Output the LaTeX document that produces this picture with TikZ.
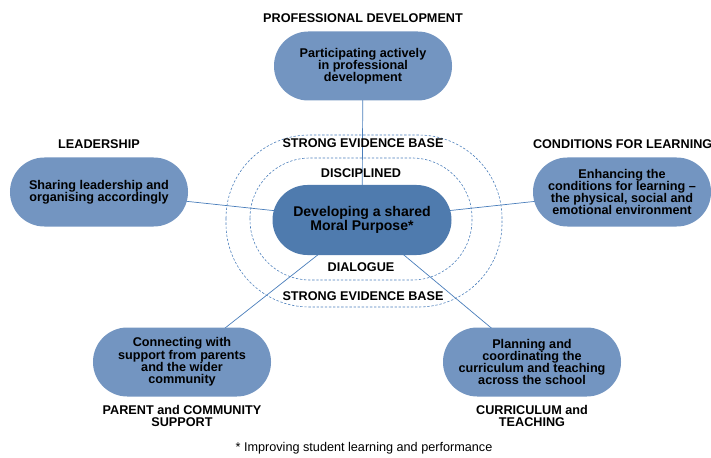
\documentclass[tikz,border=0pt]{standalone}
\usepackage{fontspec}
\setmainfont{Liberation Sans}
\usetikzlibrary{positioning,backgrounds}

\definecolor{pillblue}{HTML}{7395C1}
\definecolor{coreblue}{HTML}{4F7BAE}
\definecolor{linkblue}{HTML}{4A7EBB}

\tikzset{
  pill/.style={fill=pillblue, minimum width=5.34cm, minimum height=2.07cm,
    rounded corners=1.03cm, align=center, font=\bfseries, inner sep=2pt},
  corepill/.style={pill, fill=coreblue, minimum width=5.37cm,
    minimum height=2.1cm, rounded corners=1.05cm,
    font=\fontsize{12}{11.6}\selectfont\bfseries},
  heading/.style={font=\bfseries, align=center, inner sep=0pt},
  ring/.style={draw=linkblue, dash pattern=on 2pt off 1.5pt, line width=0.5pt},
  link/.style={draw=linkblue, line width=0.6pt},
}

\begin{document}
\fontsize{10.8}{10.4}\selectfont
\begin{tikzpicture}[x=0.03cm, y=-0.03cm]
    \useasboundingbox (0,0) rectangle (711,458);

    % evidence base and disciplined dialogue rings
    \draw[ring, rounded corners=2.5cm] (226,135) rectangle (502,307);
    \draw[ring, rounded corners=1.8cm] (250,158) rectangle (472,280);

    \node[corepill] (core) at (362,220) {Developing a shared\\Moral Purpose*};

    \node[pill] (prof) at (363,66) {Participating actively\\in professional\\development};
    \node[pill] (lead) at (99,192) {Sharing leadership and\\organising accordingly};
    \node[pill] (cond) at (622,192) {Enhancing the\\conditions for learning –\\the physical, social and\\emotional environment};
    \node[pill] (parent) at (182,362) {Connecting with\\support from parents\\and the wider\\community};
    \node[pill] (curr) at (532,362) {Planning and\\coordinating the\\curriculum and teaching\\across the school};

    \node[heading, above=0.24cm of prof] (profhead) {PROFESSIONAL DEVELOPMENT};
    \node[heading, above=0.24cm of lead] (leadhead) {LEADERSHIP};
    \node[heading, above=0.24cm of cond.north west, anchor=south west] (condhead) {CONDITIONS FOR LEARNING};
    \node[heading, below=0.24cm of parent] (parenthead) {PARENT and COMMUNITY\\SUPPORT};
    \node[heading, below=0.24cm of curr] (currhead) {CURRICULUM and\\TEACHING};

    \node[heading] (evtop) at (363,143) {STRONG EVIDENCE BASE};
    \node[heading] (disc) at (361,173) {DISCIPLINED};
    \node[heading] (dial) at (361,267) {DIALOGUE};
    \node[heading] (evbot) at (363,296) {STRONG EVIDENCE BASE};

    \node[inner sep=0pt] (note) at (364,448) {* Improving student learning and performance};

    \begin{pgfonlayer}{background}
      \foreach \n in {prof,lead,cond,parent,curr}
        \draw[link] (core.center) -- (\n.center);
    \end{pgfonlayer}
\end{tikzpicture}
\end{document}
